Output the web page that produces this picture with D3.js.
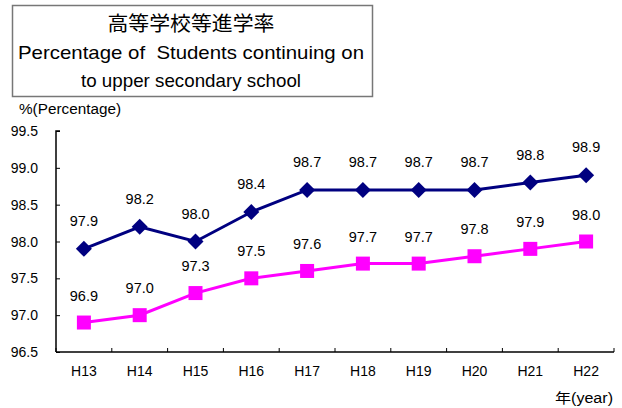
<!DOCTYPE html>
<html><head><meta charset="utf-8">
<script src="https://cdn.jsdelivr.net/npm/d3@7"></script>
<style>body{margin:0;background:#fff}svg{display:block}text{white-space:pre}</style>
</head><body>
<script>
const categories = ["H13","H14","H15","H16","H17","H18","H19","H20","H21","H22"];
const seriesBlue = [97.9,98.2,98.0,98.4,98.7,98.7,98.7,98.7,98.8,98.9];
const seriesPink = [96.9,97.0,97.3,97.5,97.6,97.7,97.7,97.8,97.9,98.0];
const yTicks = [96.5,97.0,97.5,98.0,98.5,99.0,99.5];
const titleLines = ["高等学校等進学率","Percentage of  Students continuing on","to upper secondary school"];

const W=622,H=408;
const font = "Arial, 'Liberation Sans', 'Noto Sans CJK JP', sans-serif";
const svg = d3.select("body").append("svg").attr("width",W).attr("height",H);

// title box
svg.append("rect").attr("x",12.5).attr("y",5.5).attr("width",360).attr("height",91)
  .attr("fill","#fff").attr("stroke","#777").attr("stroke-width",1.5);
const ty=[31,59,87], ts=[20,19,19], tw=[167,346,220];
titleLines.forEach((t,i)=>svg.append("text").attr("x",191).attr("y",ty[i]).attr("text-anchor","middle")
  .attr("font-family",i==0?"'Noto Sans CJK JP', sans-serif":font).attr("font-size",ts[i]).attr("fill","#000")
  .attr("textLength",tw[i]).attr("lengthAdjust","spacingAndGlyphs").text(t));

const x = d3.scaleBand().domain(categories).range([56,614]);
const y = d3.scaleLinear().domain([96.5,99.5]).range([352,131]);

// axes
const gy = svg.append("g").attr("transform","translate(56,0)")
  .call(d3.axisRight(y).tickValues(yTicks).tickSize(4).tickFormat(""));
gy.select(".domain").attr("stroke","#000").attr("stroke-width",1.5).attr("d","M4,131H0V352");
gy.selectAll(".tick line").attr("stroke","#000");
svg.selectAll(".ylab").data(yTicks).enter().append("text")
  .attr("x",38).attr("y",d=>y(d)+5).attr("text-anchor","end")
  .attr("font-family",font).attr("font-size",14).attr("fill","#000").text(d=>d.toFixed(1));

const gx = svg.append("g").attr("transform","translate(0,352)");
gx.append("line").attr("x1",56).attr("x2",614).attr("stroke","#000").attr("stroke-width",1.5);
const bounds = categories.map(c=>x(c)).concat([x.range()[1]]);
gx.selectAll(".xt").data(bounds).enter().append("line")
  .attr("x1",d=>d).attr("x2",d=>d).attr("y1",0).attr("y2",-4).attr("stroke","#000");
gx.selectAll(".xl").data(categories).enter().append("text")
  .attr("x",d=>x(d)+x.bandwidth()/2).attr("y",24).attr("text-anchor","middle")
  .attr("font-family",font).attr("font-size",14).attr("fill","#000").text(d=>d);

svg.append("text").attr("x",19).attr("y",114).attr("font-family",font).attr("font-size",14)
  .attr("textLength",102).attr("lengthAdjust","spacingAndGlyphs").text("%(Percentage)");
svg.append("text").attr("x",613).attr("y",403).attr("text-anchor","end").attr("font-family",font).attr("font-size",14)
  .attr("textLength",58).attr("lengthAdjust","spacingAndGlyphs").text("年(year)");

const cx = d=>x(d)+x.bandwidth()/2;
const line = d3.line().x((d,i)=>cx(categories[i])).y(d=>y(d));

// pink
svg.append("path").datum(seriesPink).attr("d",line).attr("fill","none").attr("stroke","#FF00FF").attr("stroke-width",3);
svg.selectAll(".sq").data(seriesPink).enter().append("rect")
  .attr("x",(d,i)=>cx(categories[i])-7).attr("y",d=>y(d)-7).attr("width",14).attr("height",14).attr("fill","#FF00FF");
// blue
svg.append("path").datum(seriesBlue).attr("d",line).attr("fill","none").attr("stroke","#000080").attr("stroke-width",3);
svg.selectAll(".dm").data(seriesBlue).enter().append("path")
  .attr("d",(d,i)=>{const px=cx(categories[i]),py=y(d);return `M${px},${py-8}L${px+8},${py}L${px},${py+8}L${px-8},${py}Z`;})
  .attr("fill","#000080");

// labels
svg.selectAll(".bl").data(seriesBlue).enter().append("text")
  .attr("x",(d,i)=>cx(categories[i])).attr("y",d=>y(d)-23).attr("text-anchor","middle")
  .attr("font-family",font).attr("font-size",14.5).text(d=>d.toFixed(1));
svg.selectAll(".pl").data(seriesPink).enter().append("text")
  .attr("x",(d,i)=>cx(categories[i])).attr("y",d=>y(d)-22).attr("text-anchor","middle")
  .attr("font-family",font).attr("font-size",14.5).text(d=>d.toFixed(1));
</script>
</body></html>
